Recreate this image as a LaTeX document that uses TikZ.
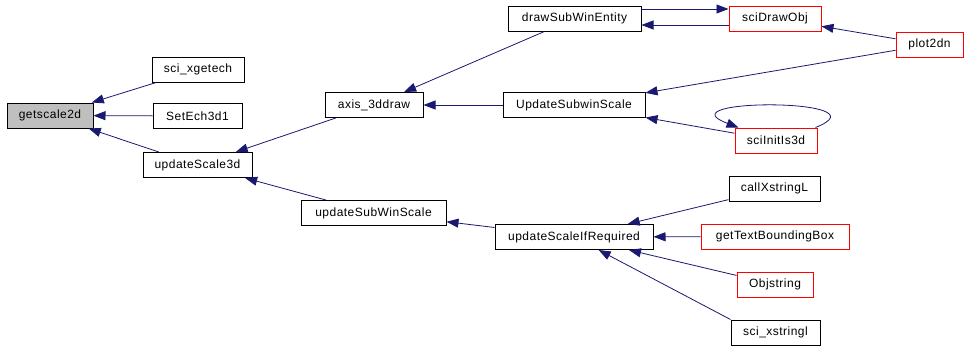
\documentclass[tikz,border=0pt]{standalone}
\usepackage{fontspec}
\setmainfont{Liberation Sans}[LetterSpace=4]
\usepackage{tikz}
\usetikzlibrary{arrows.meta}
\definecolor{edgeblue}{HTML}{191970}
\definecolor{boxgray}{HTML}{BFBFBF}
\tikzset{
	fnbox/.style={draw=black, line width=1pt, rectangle, minimum height=25pt, inner sep=0pt, font=\fontsize{12}{14}\selectfont}
}
\tikzset{
	redbox/.style={fnbox, draw=red}
}
\tikzset{
	call/.style={draw=edgeblue, line width=0.8pt, -{Triangle[length=12pt,width=9pt]}}
}

\begin{document}
\begin{tikzpicture}[x=1pt, y=-1pt]
      \useasboundingbox (0,0) rectangle (967,349);
      % left column
      \node[fnbox, fill=boxgray, minimum width=86pt] (gs) at (50,115.5) {getscale2d};
      \node[fnbox, minimum width=92pt] (xget) at (198,69.5) {sci\_xgetech};
      \node[fnbox, minimum width=89pt] (seteh) at (197.5,116) {SetEch3d1};
      \node[fnbox, minimum width=109pt] (us3d) at (197.5,165) {updateScale3d};
      % middle
      \node[fnbox, minimum width=98pt] (axis) at (374,105) {axis\_3ddraw};
      \node[fnbox, minimum width=145pt] (usw) at (373.5,213) {updateSubWinScale};
      \node[fnbox, minimum width=133pt] (dswe) at (574.5,18.5) {drawSubWinEntity};
      \node[fnbox, minimum width=142pt] (usws) at (574,105) {UpdateSubwinScale};
      \node[fnbox, minimum width=158pt] (usir) at (574,237) {updateScaleIfRequired};
      % right
      \node[redbox, minimum width=92pt] (sdo) at (775,18.5) {sciDrawObj};
      \node[redbox, minimum width=67pt] (plot) at (929.5,44.5) {plot2dn};
      \node[redbox, minimum width=82pt] (sii) at (776,140.5) {sciInitIs3d};
      \node[fnbox, minimum width=91pt] (cxl) at (774.5,188.5) {callXstringL};
      \node[redbox, minimum width=148pt] (gtbb) at (775,236.5) {getTextBoundingBox};
      \node[redbox, minimum width=76pt] (objs) at (775,284.5) {Objstring};
      \node[fnbox, minimum width=89pt] (sxs) at (775.5,332.5) {sci\_xstringl};

      \foreach \a/\b in {xget/gs, seteh/gs, us3d/gs, axis/us3d, usw/us3d, dswe/axis, usws/axis,
                         plot/sdo, plot/usws, sii/usws, usir/usw, cxl/usir, gtbb/usir, objs/usir}
        \draw[call] (\a) -- (\b);
      \draw[call] (sxs.north west) -- (usir);
      \draw[call] ([yshift=9.5pt]dswe.east) -- ([yshift=9.5pt]sdo.west);
      \draw[call] ([yshift=-6.5pt]sdo.west) -- ([yshift=-6.5pt]dswe.east);
      \draw[call] ([xshift=-2pt]sii.north east) .. controls (890,98) and (660,98) .. ([xshift=4pt]sii.north west);
\end{tikzpicture}
\end{document}
